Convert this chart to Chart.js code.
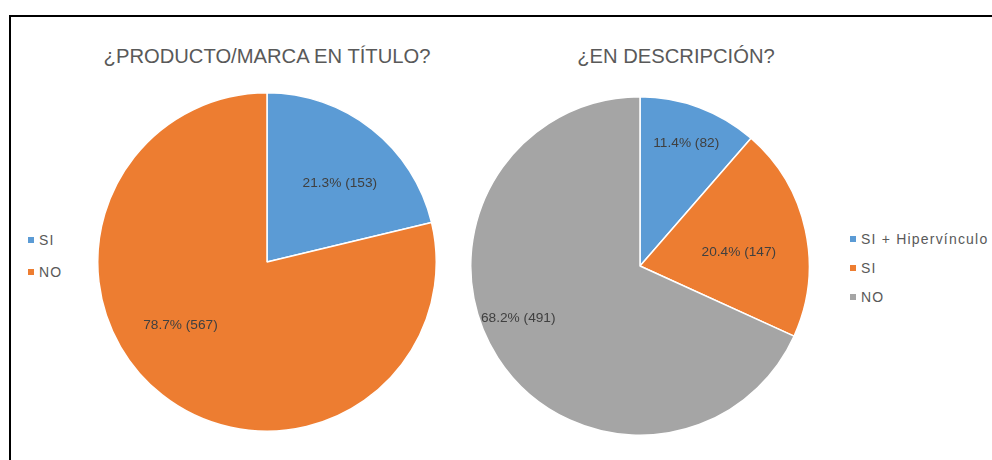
<!DOCTYPE html>
<html>
<head>
<meta charset="utf-8">
<script src="https://cdn.jsdelivr.net/npm/chart.js@4.4.1/dist/chart.umd.min.js"></script>
<style>
  body { margin: 0; background: #fff; width: 992px; height: 460px; overflow: hidden; position: relative; font-family: "Liberation Sans", Arial, sans-serif; }
  .frame { position: absolute; left: 9px; top: 15px; width: 1200px; height: 600px; border-left: 2px solid #000; border-top: 2px solid #000; }
  .title { position: absolute; font-size: 20.2px; color: #595959; white-space: nowrap; transform: translateX(-50%); }
  .legend { position: absolute; font-size: 14px; color: #595959; letter-spacing: 1.2px; }
  .legend div { line-height: 16px; white-space: nowrap; }
  .legend span.sw { display: inline-block; width: 6px; height: 6px; margin-right: 5px; vertical-align: 2px; }
  canvas { position: absolute; }
</style>
</head>
<body>
<div class="frame"></div>
<div class="title" style="left:267px; top:45px;">¿PRODUCTO/MARCA EN TÍTULO?</div>
<div class="title" style="left:676px; top:45px;">¿EN DESCRIPCIÓN?</div>
<div class="legend" id="legend1" style="left:28px; top:232px;"></div>
<div class="legend" id="legend2" style="left:850px; top:231px;"></div>
<canvas id="pie1" width="344" height="344" style="left:95px; top:90px;"></canvas>
<canvas id="pie2" width="344" height="344" style="left:468px; top:94px;"></canvas>
<script>
// data
var tituloLabels = ['SI', 'NO'];
var tituloValues = [153, 567];
var tituloColors = ['#5B9BD5', '#ED7D31'];

var descLabels = ['SI + Hipervínculo', 'SI', 'NO'];
var descValues = [82, 147, 491];
var descColors = ['#5B9BD5', '#ED7D31', '#A5A5A5'];

// percentages to one decimal, the largest slice takes the remainder so they add to 100
function percents(values) {
  var total = values.reduce(function(a, b) { return a + b; }, 0);
  var big = values.indexOf(Math.max.apply(null, values));
  var out = values.map(function(v) { return Math.round(v / total * 1000) / 10; });
  var rest = 100;
  out.forEach(function(p, i) { if (i !== big) rest -= p; });
  out[big] = Math.round(rest * 10) / 10;
  return out;
}

// draws "xx.x% (n)" inside each slice
var sliceLabels = {
  id: 'sliceLabels',
  afterDatasetsDraw: function(chart, args, opts) {
    var ctx = chart.ctx;
    var values = chart.data.datasets[0].data;
    var pct = percents(values);
    var place = opts.place || [];
    ctx.save();
    ctx.font = '13.7px "Liberation Sans", Arial, sans-serif';
    ctx.fillStyle = '#404040';
    ctx.textAlign = 'center';
    ctx.textBaseline = 'middle';
    chart.getDatasetMeta(0).data.forEach(function(arc, i) {
      var p = arc.getProps(['x', 'y', 'startAngle', 'endAngle', 'outerRadius'], true);
      var pl = place[i] || { r: 0.65, da: 0 };
      var mid = (p.startAngle + p.endAngle) / 2 + pl.da * Math.PI / 180;
      var r = p.outerRadius * pl.r;
      var txt = pct[i].toFixed(1) + '% (' + values[i] + ')';
      ctx.fillText(txt, p.x + Math.cos(mid) * r, p.y + Math.sin(mid) * r + 1);
    });
    ctx.restore();
  }
};

function makePie(id, labels, values, colors, place) {
  return new Chart(document.getElementById(id), {
    type: 'pie',
    data: {
      labels: labels,
      datasets: [{
        data: values,
        backgroundColor: colors,
        borderColor: '#ffffff',
        borderWidth: 1.5
      }]
    },
    options: {
      responsive: false,
      animation: false,
      layout: { padding: 2 },
      plugins: {
        legend: { display: false },
        tooltip: { enabled: false },
        sliceLabels: { place: place }
      }
    },
    plugins: [sliceLabels]
  });
}

function makeLegend(id, labels, colors, gap) {
  var el = document.getElementById(id);
  labels.forEach(function(l, i) {
    var d = document.createElement('div');
    d.style.height = gap + 'px';
    d.innerHTML = '<span class="sw" style="background:' + colors[i] + '"></span>' + l;
    el.appendChild(d);
  });
}

makePie('pie1', tituloLabels, tituloValues, tituloColors,
  [{ r: 0.64, da: 4 }, { r: 0.63, da: 16 }]);
makePie('pie2', descLabels, descValues, descColors,
  [{ r: 0.78, da: 0 }, { r: 0.59, da: 4 }, { r: 0.78, da: 10 }]);
makeLegend('legend1', tituloLabels, tituloColors, 32);
makeLegend('legend2', descLabels, descColors, 29);
</script>
</body>
</html>
